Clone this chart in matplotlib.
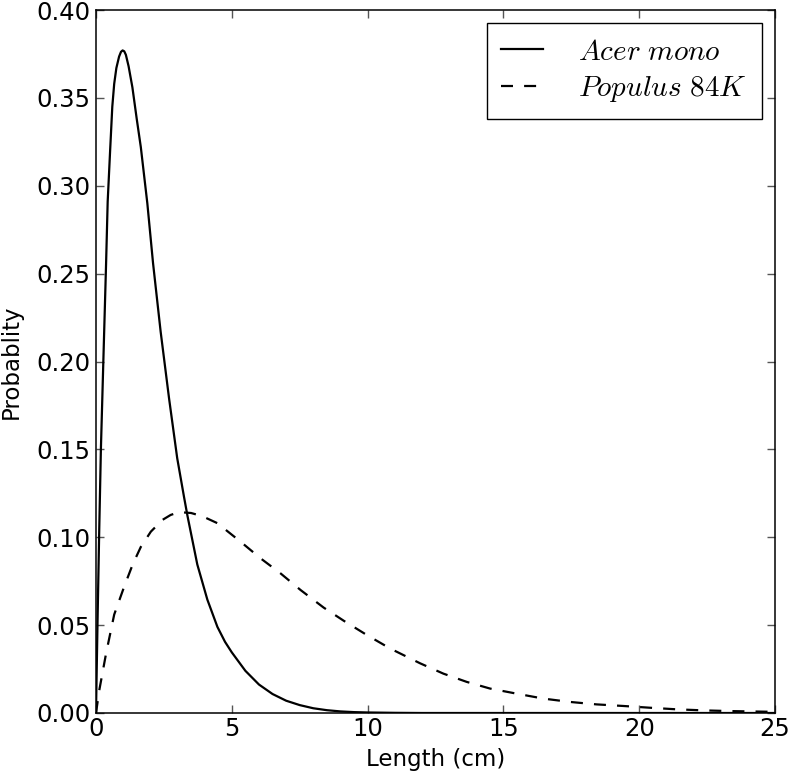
import numpy as np
import matplotlib
matplotlib.use("Agg")
import matplotlib.pyplot as plt

plt.rcParams['font.family'] = ['DejaVu Sans']
plt.rcParams['mathtext.fontset'] = 'cm'

# values
acer_x = [0.00, 0.03, 0.06, 0.12, 0.18, 0.27, 0.37, 0.43, 0.52, 0.60, 0.67, 0.75,
          0.85, 0.92, 0.98, 1.04, 1.10, 1.20, 1.34, 1.50, 1.65, 1.89, 2.10, 2.38, 2.69, 2.99,
          3.24, 3.37, 3.73, 4.10, 4.47, 4.75, 5.00, 5.50, 6.00, 6.50, 7.00, 7.50,
          8.00, 8.50, 9.00, 9.50, 10.0, 11.0, 12.0, 25.0]
acer_y = [0.000, 0.028, 0.055, 0.105, 0.150, 0.200, 0.255, 0.291, 0.320, 0.345, 0.358, 0.367,
          0.3735, 0.3762, 0.3770, 0.3765, 0.3745, 0.368, 0.356, 0.338, 0.322, 0.290, 0.256, 0.217, 0.179, 0.145,
          0.123, 0.112, 0.0845, 0.0645, 0.0490, 0.0405, 0.0345, 0.0240, 0.0162, 0.0108, 0.0070, 0.0045,
          0.0027, 0.0016, 0.0009, 0.0005, 0.0003, 0.0001, 0.0, 0.0]

populus_x = [0.00, 0.12, 0.37, 0.67, 1.04, 1.35, 1.65, 2.02, 2.45, 2.75, 3.06, 3.50, 3.91,
             4.47, 5.32, 6.06, 6.79, 7.53, 8.38, 9.12, 9.98, 10.83, 11.93, 12.79, 13.65,
             14.51, 15.49, 16.47, 17.45, 18.43, 19.41, 20.39, 21.37, 22.35, 23.33, 24.44, 24.8]
populus_y = [0.000, 0.0129, 0.0338, 0.0560, 0.0720, 0.0845, 0.0945, 0.1032, 0.1099, 0.1127, 0.1143, 0.1138, 0.1120,
             0.1080, 0.0975, 0.0880, 0.0795, 0.0700, 0.0600, 0.0525, 0.0443, 0.0367, 0.0283, 0.0224, 0.0177,
             0.0139, 0.0110, 0.0082, 0.0063, 0.0049, 0.0040, 0.0030, 0.0021, 0.0015, 0.0011, 0.0008, 0.0007]

labels = [r'$Acer\ mono$', r'$Populus\ 84K$']

fig = plt.figure(figsize=(7.93, 7.76), dpi=100)
ax = fig.add_axes([96/793, 63/776, 679/793, 703/776])

ax.plot(acer_x, acer_y, color='black', lw=1.6, label=labels[0])
ax.plot(populus_x, populus_y, color='black', lw=1.6, linestyle=(0, (5.4, 5.0)), label=labels[1])

ax.set_xlim(0, 25)
ax.set_ylim(0, 0.40)
ax.set_xticks([0, 5, 10, 15, 20, 25])
ax.set_yticks(np.arange(0, 0.401, 0.05))
ax.yaxis.set_major_formatter(matplotlib.ticker.FormatStrFormatter('%.2f'))

ax.tick_params(direction='in', top=True, right=True, length=6, width=1,
               color='#555555', labelsize=17.5)
ax.tick_params(axis='x', pad=3)
ax.tick_params(axis='y', pad=4)
for s in ax.spines.values():
    s.set_linewidth(1.1)

ax.set_xlabel('Length (cm)', fontsize=16.5, labelpad=5)
ax.set_ylabel('Probablity', fontsize=16.5, labelpad=10)

leg = ax.legend(loc='upper right', fontsize=21, fancybox=False, framealpha=1,
                edgecolor='black', borderaxespad=0.45, borderpad=0.5,
                handlelength=1.45, handletextpad=1.2, labelspacing=0.3)
leg.get_frame().set_linewidth(1.0)

fig.savefig('out.png', dpi=100)
